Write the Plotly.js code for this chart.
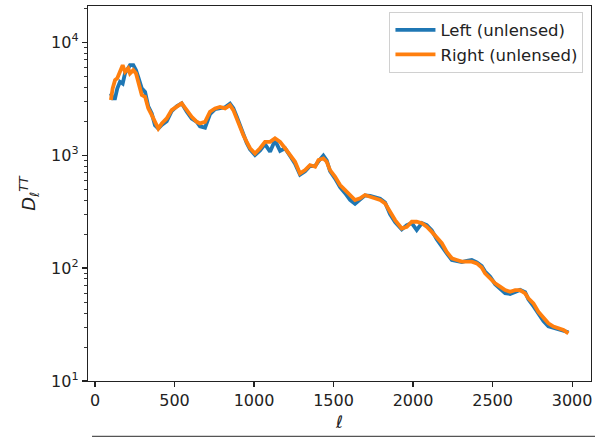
<!DOCTYPE html>
<html>
<head>
<meta charset="utf-8">
<script src="https://cdn.plot.ly/plotly-3.0.1.min.js"></script>
<style>html,body{margin:0;padding:0;background:#fff;}#chart{width:595px;height:437px;}</style>
</head>
<body>
<div id="chart"></div>
<script>
// multipole moments
const ell = [100,111,126,140,157,174,189,209,220,241,258,272,294,315,335,357,377,398,420,451,
  482,514,545,577,608,640,660,692,723,755,786,818,849,870,891,912,933,954,975,1006,
  1038,1069,1101,1132,1164,1195,1227,1258,1289,1321,1352,1384,1405,1436,1457,1478,1510,1541,1573,1604,
  1635,1667,1698,1730,1761,1793,1824,1855,1887,1929,1961,1992,2023,2055,2086,2118,2149,2181,2212,2244,
  2275,2307,2338,2369,2401,2432,2453,2485,2516,2547,2579,2610,2642,2673,2705,2725,2757,2788,2820,2851,
  2883,2914,2946,2977];

// Left (unlensed)
const leftVals = [3520,3180,3180,3890,4460,4300,5300,6000,6250,6250,5650,4900,3900,3630,2700,2340,1840,1720,1850,1990,
  2450,2700,2870,2420,2100,1970,1800,1750,2300,2550,2600,2650,2850,2600,2200,1800,1550,1280,1120,1000,
  1100,1250,1070,1350,1090,1150,980,840,670,720,800,800,880,990,900,720,620,520,460,400,
  370,400,440,435,420,410,380,300,255,220,240,250,217,250,240,215,180,158,135,118,
  116,113,116,118,112,104,93,84,72,66,60,59,62,64,61,53,46,39,34,30.5,
  29.5,28.8,28,27];

// Right (unlensed)
const rightVals = [3070,3890,4610,4780,5460,6250,5460,5850,5280,5650,5280,4460,3400,3280,2590,2260,1970,1720,1910,2110,
  2500,2670,2870,2500,2180,1970,1910,1970,2420,2590,2670,2590,2770,2500,2110,1720,1500,1310,1150,1035,
  1150,1310,1310,1410,1310,1150,1000,873,689,736,816,788,904,935,873,736,643,543,490,443,
  400,414,443,428,414,400,374,310,266,224,232,257,257,249,232,209,189,166,139,122,
  118,114,114,114,110,101,89.8,81.1,73.3,68.4,63.8,61.7,63.8,63.8,59.7,54.0,48.7,41.0,35.9,32.4,
  30.3,29.2,28.3,26.4];

const seriesNames = ['Left (unlensed)', 'Right (unlensed)'];
const xTicks = [0,500,1000,1500,2000,2500,3000];
const yTicks = [10,100,1000,10000];
const yTickText = ['10<sup>1</sup>','10<sup>2</sup>','10<sup>3</sup>','10<sup>4</sup>'];
const decades = [10,100,1000,10000];
const mantissas = [2,3,4,5,6,7,8,9];
const yMinorTicks = [];
decades.forEach(d => mantissas.forEach(m => { if (m*d <= 20000) yMinorTicks.push(m*d); }));

const font = 'DejaVu Sans, sans-serif';
const traces = [
  {x: ell, y: leftVals, name: seriesNames[0], mode: 'lines', line: {color: '#1f77b4', width: 3.8}},
  {x: ell, y: rightVals, name: seriesNames[1], mode: 'lines', line: {color: '#ff7f0e', width: 3.8}}
];

const layout = {
  width: 595, height: 437,
  margin: {l: 88, r: 4, t: 6, b: 56},
  paper_bgcolor: '#fff', plot_bgcolor: '#fff',
  font: {family: font, size: 16, color: '#222'},
  showlegend: true,
  legend: {
    x: 0.985, y: 0.985, xanchor: 'right', yanchor: 'top',
    bgcolor: 'rgba(255,255,255,0.85)', bordercolor: '#d0d0d0', borderwidth: 1,
    font: {family: font, size: 16.5, color: '#222'},
    itemwidth: 40
  },
  xaxis: {
    range: [-44, 3119], tickvals: xTicks, ticktext: xTicks.map(String),
    showgrid: false, zeroline: false, showline: true, mirror: true,
    linecolor: '#222', linewidth: 1.2, ticks: 'outside', ticklen: 5, tickwidth: 1.1, tickcolor: '#222',
    tickfont: {family: font, size: 16, color: '#222'},
    title: {text: '<i>ℓ</i>', font: {family: font, size: 17, color: '#222'}, standoff: 6}
  },
  yaxis: {
    type: 'log', range: [1, 4.32], tickvals: yTicks, ticktext: yTickText,
    showgrid: false, zeroline: false, showline: true, mirror: true,
    linecolor: '#222', linewidth: 1.2, ticks: 'outside', ticklen: 5, tickwidth: 1.1, tickcolor: '#222',
    tickfont: {family: font, size: 16, color: '#222'},
    minor: {tickmode: 'array', tickvals: yMinorTicks, ticks: 'outside', ticklen: 3, tickwidth: 0.9, tickcolor: '#222', showgrid: false},
    title: {text: '<i>D</i><sub><i>ℓ</i></sub><sup><i>TT</i></sup>', font: {family: font, size: 18, color: '#222'}, standoff: 10}
  },
  shapes: [
    {type: 'line', xref: 'paper', yref: 'paper', x0: 0.008, x1: 1.01, y0: -0.148, y1: -0.148,
     line: {color: '#555', width: 1.5}}
  ]
};

Plotly.newPlot('chart', traces, layout, {displayModeBar: false, staticPlot: true});
</script>
</body>
</html>
